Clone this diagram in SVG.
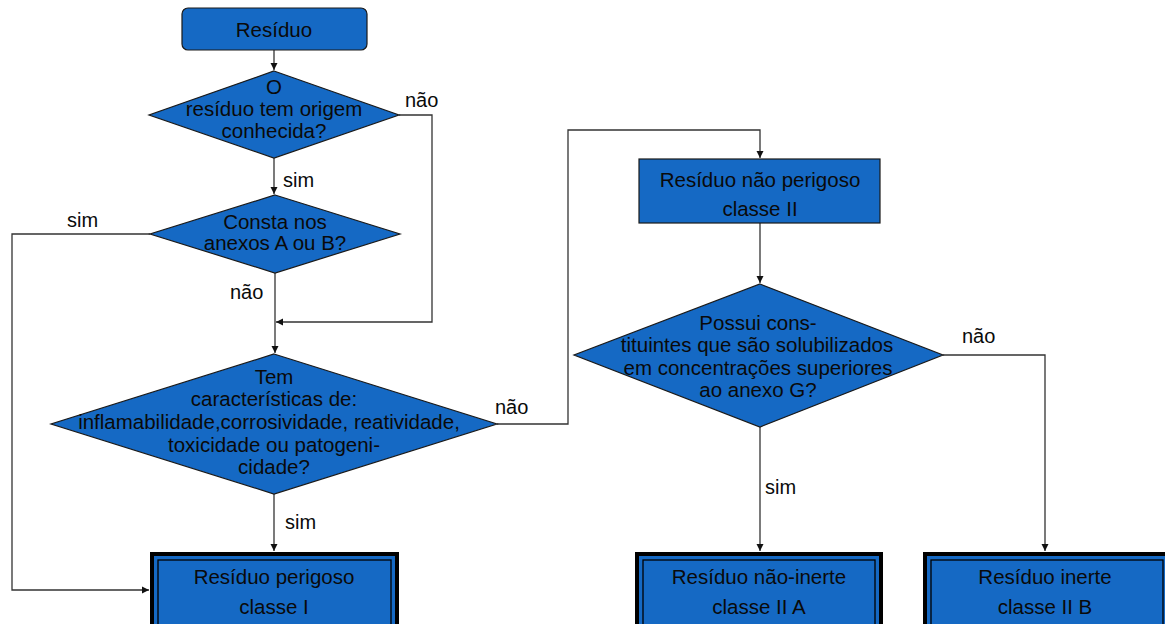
<svg xmlns="http://www.w3.org/2000/svg" width="1165" height="624" viewBox="0 0 1165 624">
<style>
.node{fill:#1569c4;stroke:#1a1a1a;stroke-width:1.2}
.term{fill:#1569c4;stroke:#000;stroke-width:4}
.inner{fill:none;stroke:#000;stroke-width:1.3}
.t{font-family:"Liberation Sans",Arial,sans-serif;font-size:20.5px;fill:#0a0a0a;text-anchor:middle}
.lbl{font-family:"Liberation Sans",Arial,sans-serif;font-size:20px;fill:#0a0a0a}
.c{fill:none;stroke:#333;stroke-width:1.3}
</style>
<defs>
<marker id="ah" markerWidth="8" markerHeight="8" refX="7" refY="4" orient="auto" markerUnits="userSpaceOnUse">
<path d="M0,0.5 L7,4 L0,7.5 z" fill="#111"/>
</marker>
</defs>
<rect width="1165" height="624" fill="#fff"/>
<g id="connectors">
<path class="c" d="M274,50 V70" marker-end="url(#ah)"/>
<path class="c" d="M274,158 V194" marker-end="url(#ah)"/>
<path class="c" d="M275,273 V353" marker-end="url(#ah)"/>
<path class="c" d="M399,115 H432 V322 H276" marker-end="url(#ah)"/>
<path class="c" d="M150,234 H12 V590 H149" marker-end="url(#ah)"/>
<path class="c" d="M274,494 V551" marker-end="url(#ah)"/>
<path class="c" d="M497,424 H568 V130 H760 V158" marker-end="url(#ah)"/>
<path class="c" d="M760,223 V283" marker-end="url(#ah)"/>
<path class="c" d="M760,427 V551" marker-end="url(#ah)"/>
<path class="c" d="M943,355 H1045 V551" marker-end="url(#ah)"/>
<text class="lbl" x="405" y="107">não</text>
<text class="lbl" x="283" y="187">sim</text>
<text class="lbl" x="67" y="227">sim</text>
<text class="lbl" x="230" y="299">não</text>
<text class="lbl" x="495" y="414">não</text>
<text class="lbl" x="285" y="529">sim</text>
<text class="lbl" x="962" y="343">não</text>
<text class="lbl" x="765" y="494">sim</text>
</g>
<g id="start">
<rect class="node" x="182" y="8" width="185" height="42" rx="6"/>
<text class="t" x="274" y="37">Resíduo</text>
</g>
<g id="d-origem">
<polygon class="node" points="274,71 399,115 274,158 149,115"/>
<text class="t" x="274" y="94">O</text>
<text class="t" x="274" y="116">resíduo tem origem</text>
<text class="t" x="274" y="138">conhecida?</text>
</g>
<g id="d-anexos">
<polygon class="node" points="275,195 400,234 275,273 150,234"/>
<text class="t" x="275" y="229">Consta nos</text>
<text class="t" x="275" y="250">anexos A ou B?</text>
</g>
<g id="d-caract">
<polygon class="node" points="274,354 497,424 274,494 51,424"/>
<text class="t" x="274" y="384">Tem</text>
<text class="t" x="274" y="406">características de:</text>
<text class="t" x="269" y="429">inflamabilidade,corrosividade, reatividade,</text>
<text class="t" x="274" y="452">toxicidade ou patogeni-</text>
<text class="t" x="274" y="474">cidade?</text>
</g>
<g id="classe1">
<rect class="term" x="152" y="554" width="245" height="80"/>
<rect class="inner" x="158" y="560" width="233" height="70"/>
<text class="t" x="274" y="584">Resíduo perigoso</text>
<text class="t" x="274" y="614">classe I</text>
</g>
<g id="classe2">
<rect class="node" x="639" y="159" width="241" height="64"/>
<text class="t" x="760" y="187">Resíduo não perigoso</text>
<text class="t" x="760" y="216">classe II</text>
</g>
<g id="d-solub">
<polygon class="node" points="760,284 943,355 760,427 574,355"/>
<text class="t" x="758" y="330">Possui cons-</text>
<text class="t" x="757" y="352">tituintes que são solubilizados</text>
<text class="t" x="758" y="375">em concentrações superiores</text>
<text class="t" x="758" y="397">ao anexo G?</text>
</g>
<g id="classe2a">
<rect class="term" x="637" y="554" width="244" height="80"/>
<rect class="inner" x="643" y="560" width="232" height="70"/>
<text class="t" x="759" y="584">Resíduo não-inerte</text>
<text class="t" x="759" y="614">classe II A</text>
</g>
<g id="classe2b">
<rect class="term" x="925" y="554" width="244" height="80"/>
<rect class="inner" x="931" y="560" width="232" height="70"/>
<text class="t" x="1045" y="584">Resíduo inerte</text>
<text class="t" x="1045" y="614">classe II B</text>
</g>
</svg>
